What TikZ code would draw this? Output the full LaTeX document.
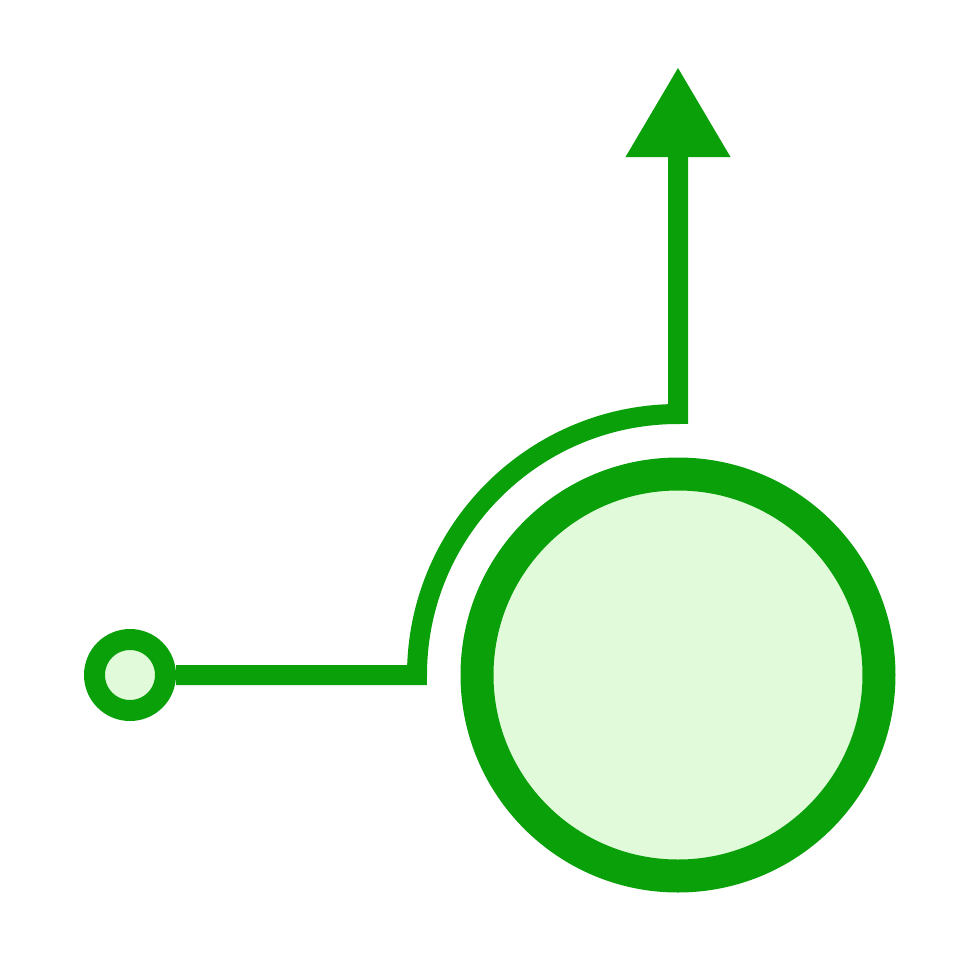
\documentclass[tikz,border=0pt]{standalone}
\usetikzlibrary{arrows.meta}
\definecolor{leafgreen}{RGB}{10,160,10}
\definecolor{mintfill}{RGB}{225,251,218}

\begin{document}
\begin{tikzpicture}[x=0.1mm,y=-0.1mm]
      \useasboundingbox (0,0) rectangle (980,980);

      % Big ring and start dot
      \node[circle, draw=leafgreen, fill=mintfill, line width=3.3mm,
            minimum size=40.2mm, inner sep=0pt] (hub) at (678,675) {};
      \node[circle, draw=leafgreen, fill=mintfill, line width=2.1mm,
            minimum size=7.1mm, inner sep=0pt] (start) at (130,675) {};

      % Route round the ring up to the arrow
      \coordinate (bend) at (417,675);
      \coordinate (tip) at (678,68);
      \draw[leafgreen, line width=2mm, line join=miter,
            -{Triangle[length=8.9mm, width=10.5mm, line width=0pt]}]
      (start.east) -- (bend)
      arc[start angle=180, end angle=270, radius=261] -- (tip);
    \end{tikzpicture}
\end{document}
